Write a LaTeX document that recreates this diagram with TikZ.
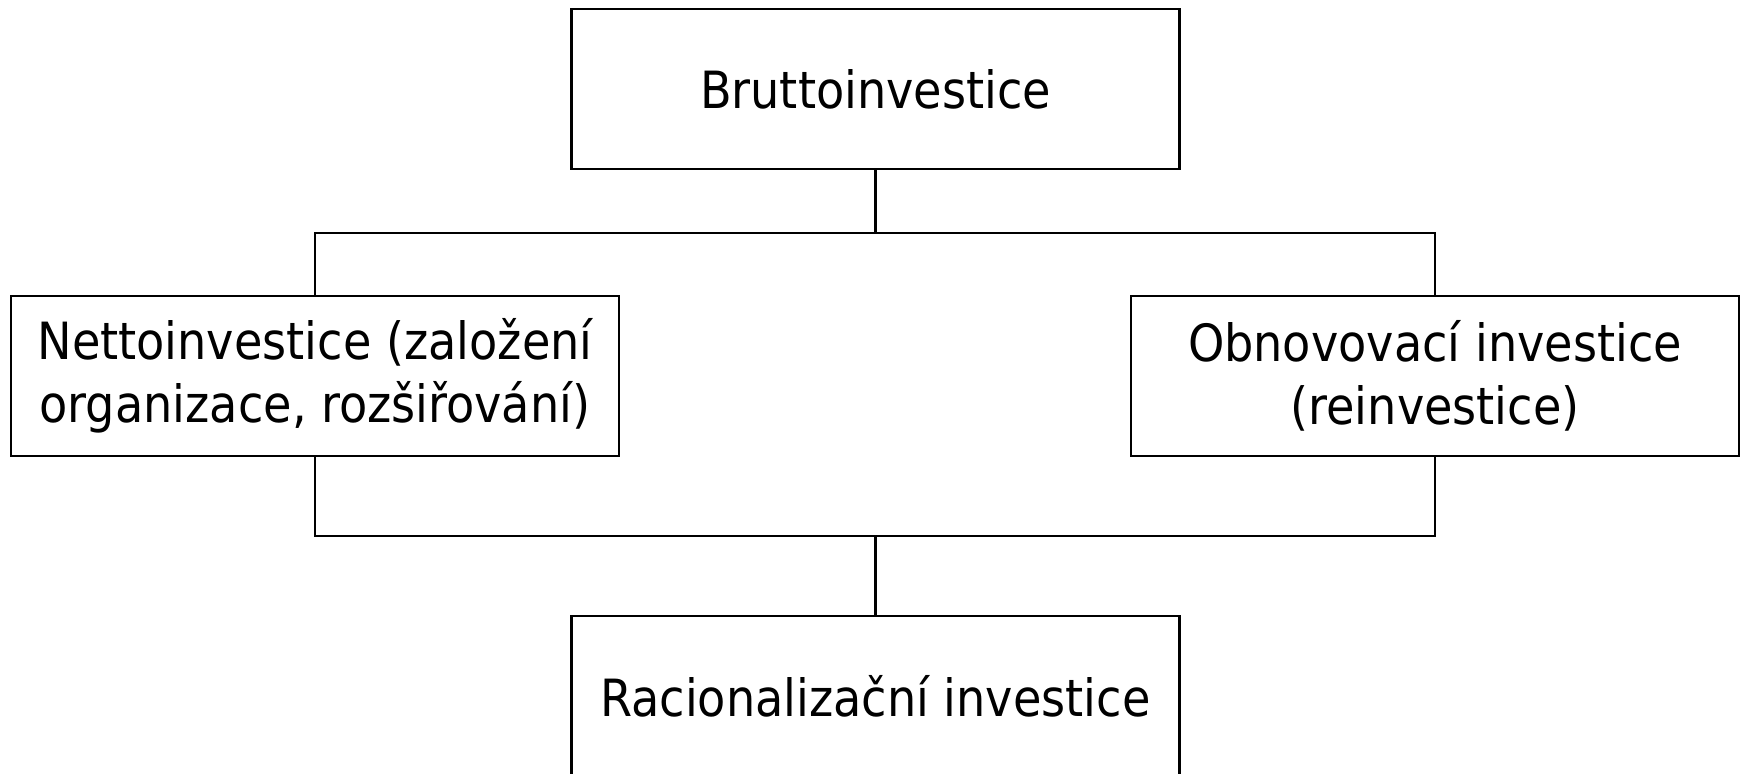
\documentclass[tikz,border=0pt]{standalone}
\usepackage{fontspec}
\setmainfont{DejaVu Sans Condensed}
\tikzset{
  invbox/.style={draw,line width=1.9pt,minimum width=15.2cm,minimum height=4cm,
    align=center,inner sep=0pt,font=\fontsize{36.5pt}{45pt}\selectfont},
  bus/.style={line width=1.9pt}
}
\begin{document}
\begin{tikzpicture}[x=0.025cm,y=-0.025cm]
\useasboundingbox (0, 0) rectangle (1740, 774);

\node [invbox] (brutto) at (875.5, 89) {Bruttoinvestice};
\node [invbox] (netto) at (315, 376) {Nettoinvestice (založení\\organizace, rozšiřování)};
\node [invbox] (obnova) at (1435, 376) {Obnovovací investice\\(reinvestice)};
\node [invbox] (racio) at (875.5, 696) {Racionalizační investice};

\coordinate (topbus) at (875.5, 233);
\coordinate (botbus) at (875.5, 536);

\draw [bus] (brutto.south) -- (topbus);
\draw [bus] (netto.north) |- (topbus) -| (obnova.north);
\draw [bus] (netto.south) |- (botbus) -| (obnova.south);
\draw [bus] (botbus) -- (racio.north);
\end{tikzpicture}
\end{document}
